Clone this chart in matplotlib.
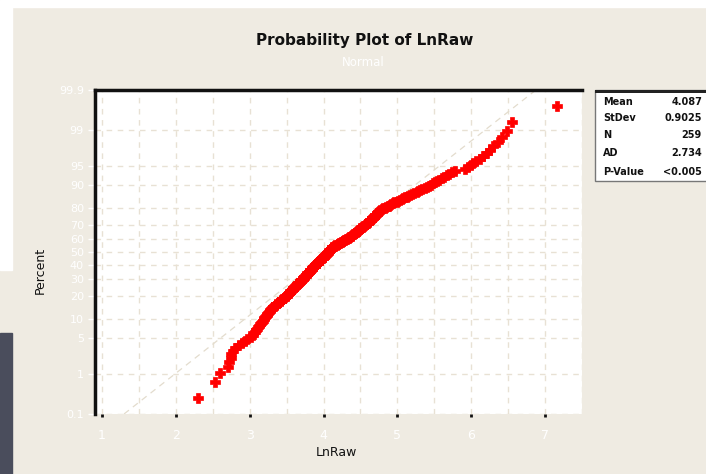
import numpy as np
import matplotlib
matplotlib.use("Agg")
import matplotlib.pyplot as plt
from matplotlib.patches import Rectangle
from statistics import NormalDist

# sorted sample values (259 points)
values = [
    2.30, 2.53, 2.60,
    2.71, 2.72, 2.74, 2.75,
    2.77, 2.80, 2.85,
    2.89, 2.93, 2.97, 3.02,
    3.04, 3.05, 3.07, 3.08, 3.10, 3.11, 3.13, 3.14, 3.15, 3.17,
    3.18, 3.19, 3.20, 3.21, 3.22, 3.23, 3.24, 3.25, 3.26, 3.27, 3.28, 3.29, 3.30,
    3.31, 3.32, 3.34, 3.35, 3.36, 3.38, 3.39, 3.40, 3.42, 3.43, 3.44, 3.46, 3.47, 3.48,
    3.49, 3.50, 3.51, 3.52, 3.53, 3.53, 3.54, 3.55, 3.56, 3.57,
    3.58, 3.59, 3.59, 3.60, 3.61, 3.62, 3.63, 3.64, 3.64, 3.65, 3.66, 3.67, 3.68, 3.68,
    3.69, 3.70, 3.71,
    3.72, 3.72, 3.73, 3.74, 3.74, 3.75, 3.76, 3.76, 3.77, 3.78, 3.78, 3.79, 3.80, 3.80,
    3.81, 3.82, 3.82, 3.83, 3.84, 3.84, 3.85, 3.86, 3.86, 3.87, 3.88, 3.88, 3.89, 3.90,
    3.90, 3.91,
    3.92, 3.92, 3.93, 3.94, 3.94, 3.95, 3.96, 3.96, 3.97, 3.98, 3.99, 3.99, 4.00, 4.01,
    4.01, 4.02, 4.03, 4.03, 4.04, 4.05, 4.06, 4.06, 4.07, 4.08, 4.08, 4.09, 4.10, 4.10,
    4.11, 4.12, 4.12, 4.13,
    4.14, 4.15, 4.16, 4.18, 4.19, 4.20, 4.21, 4.22, 4.23, 4.25, 4.26, 4.27, 4.28, 4.29,
    4.30, 4.32, 4.33, 4.34, 4.35, 4.36,
    4.37, 4.38, 4.39, 4.40, 4.41, 4.42, 4.43, 4.44, 4.45, 4.46, 4.47, 4.47, 4.48, 4.49,
    4.50, 4.51, 4.52, 4.53, 4.54, 4.55, 4.56, 4.57, 4.58, 4.59,
    4.60, 4.61, 4.62, 4.62, 4.63, 4.64, 4.65, 4.66, 4.67, 4.68, 4.68, 4.69, 4.70, 4.71,
    4.72, 4.73, 4.74, 4.74, 4.75, 4.76, 4.77,
    4.79, 4.81, 4.83, 4.85, 4.87, 4.88, 4.90, 4.92, 4.94,
    4.96, 4.99, 5.01, 5.03, 5.06, 5.08, 5.10, 5.13, 5.15, 5.17,
    5.20, 5.23, 5.26, 5.28, 5.31, 5.34, 5.37, 5.40,
    5.43, 5.45, 5.48, 5.51, 5.53, 5.56,
    5.60, 5.63, 5.67, 5.70, 5.74, 5.78,
    5.92, 5.96, 6.00, 6.03,
    6.07, 6.12, 6.16,
    6.21, 6.25, 6.30,
    6.36, 6.42,
    6.49, 6.55, 7.16,
]

stat_names = ["Mean", "StDev", "N", "AD", "P-Value"]
stat_values = ["4.087", "0.9025", "259", "2.734", "<0.005"]
mean, sd = 4.087, 0.9025

y_ticks = [0.1, 1, 5, 10, 20, 30, 40, 50, 60, 70, 80, 90, 95, 99, 99.9]
y_labels = ["0.1", "1", "5", "10", "20", "30", "40", "50", "60", "70", "80", "90", "95", "99", "99.9"]
x_ticks = [1, 2, 3, 4, 5, 6, 7]
x_grid = [1, 1.5, 2, 2.5, 3, 3.5, 4, 4.5, 5, 5.5, 6, 6.5, 7, 7.5]

nd = NormalDist()
_ppf = np.vectorize(lambda p: nd.inv_cdf(min(max(p / 100.0, 1e-9), 1 - 1e-9)), otypes=[float])
_cdf = np.vectorize(lambda z: nd.cdf(z) * 100.0, otypes=[float])


def fwd(p):
    return _ppf(np.asarray(p, dtype=float))


def inv(z):
    return _cdf(np.asarray(z, dtype=float))


n = len(values)
rank = np.arange(1, n + 1)
pct = (rank - 0.3) / (n + 0.4) * 100  # median ranks

bg = "#efebe2"
fig = plt.figure(figsize=(7.06, 4.74), dpi=100, facecolor=bg)
W, H = 706, 474

# bits of the surrounding screen
fig.patches.append(Rectangle((0, 1 - 7 / H), 1, 7 / H, transform=fig.transFigure, color="white", zorder=0))
fig.patches.append(Rectangle((0, 1 - 270 / H), 12 / W, 270 / H, transform=fig.transFigure, color="white", zorder=0))
fig.patches.append(Rectangle((0, 0), 12 / W, 141 / H, transform=fig.transFigure, color="#4a4d5c", zorder=0))

ax = fig.add_axes([95 / W, 60 / H, 487 / W, 324 / H])
ax.set_facecolor("white")
ax.set_yscale("function", functions=(fwd, inv))
ax.set_ylim(0.1, 99.9)
ax.set_xlim(0.905, 7.5)

for s in ["right", "bottom"]:
    ax.spines[s].set_visible(False)
for s in ["left", "top"]:
    ax.spines[s].set_linewidth(2.5)
    ax.spines[s].set_color("#111111")

ax.set_yticks(y_ticks)
ax.set_yticklabels(y_labels)
ax.yaxis.set_minor_locator(matplotlib.ticker.NullLocator())
ax.set_xticks(x_ticks)
ax.set_xticks(x_grid, minor=True)

ax.grid(True, which="both", axis="x", color="#e8e1d4", linestyle=(0, (4, 4)), linewidth=1)
ax.grid(True, which="major", axis="y", color="#e8e1d4", linestyle=(0, (4, 4)), linewidth=1)
ax.set_axisbelow(True)

ax.tick_params(axis="x", which="major", direction="out", length=2, width=2, color="#111111",
               labelcolor="white", labelsize=9, pad=9)
ax.tick_params(axis="x", which="minor", length=0)
ax.tick_params(axis="y", which="major", direction="out", length=5, width=1, color="white",
               labelcolor="white", labelsize=8, pad=3)

# fitted line
fit_p = [0.1, 99.9]
fit_x = [mean + sd * z for z in fwd(fit_p)]
ax.plot(fit_x, fit_p, color="#e3dccd", linestyle=(0, (5, 4)), linewidth=0.9, zorder=2)

ax.plot(values, pct, "P", color="#ff0000", ms=7.5, mec="#ff0000", mew=0.5, zorder=3)

fig.text(365 / W, 1 - 41 / H, "Probability Plot of LnRaw", ha="center", va="center",
         fontsize=11, fontweight="bold", color="#111111")
fig.text(363 / W, 1 - 62 / H, "Normal", ha="center", va="center", fontsize=8.5, color="white")
fig.text(336 / W, 1 - 452 / H, "LnRaw", ha="center", va="center", fontsize=9, color="#111111")
fig.text(40 / W, 1 - 270 / H, "Percent", ha="center", va="center", rotation=90,
         fontsize=9, color="#111111")

# statistics box
fig.patches.append(Rectangle((595 / W, 1 - 181 / H), 120 / W, 91 / H, transform=fig.transFigure,
                             facecolor="white", edgecolor="#777777", linewidth=1, zorder=1))
fig.patches.append(Rectangle((595 / W, 1 - 93 / H), 120 / W, 3 / H, transform=fig.transFigure,
                             facecolor="#222222", edgecolor="none", zorder=2))
row_y = [102, 118, 135, 153, 172]
for name, val, yy in zip(stat_names, stat_values, row_y):
    fig.text(603 / W, 1 - yy / H, name, ha="left", va="center", fontsize=7,
             fontweight="bold", color="#111111")
    fig.text(702 / W, 1 - yy / H, val, ha="right", va="center", fontsize=7,
             fontweight="bold", color="#111111")

fig.savefig("out.png", dpi=100, facecolor=bg)
